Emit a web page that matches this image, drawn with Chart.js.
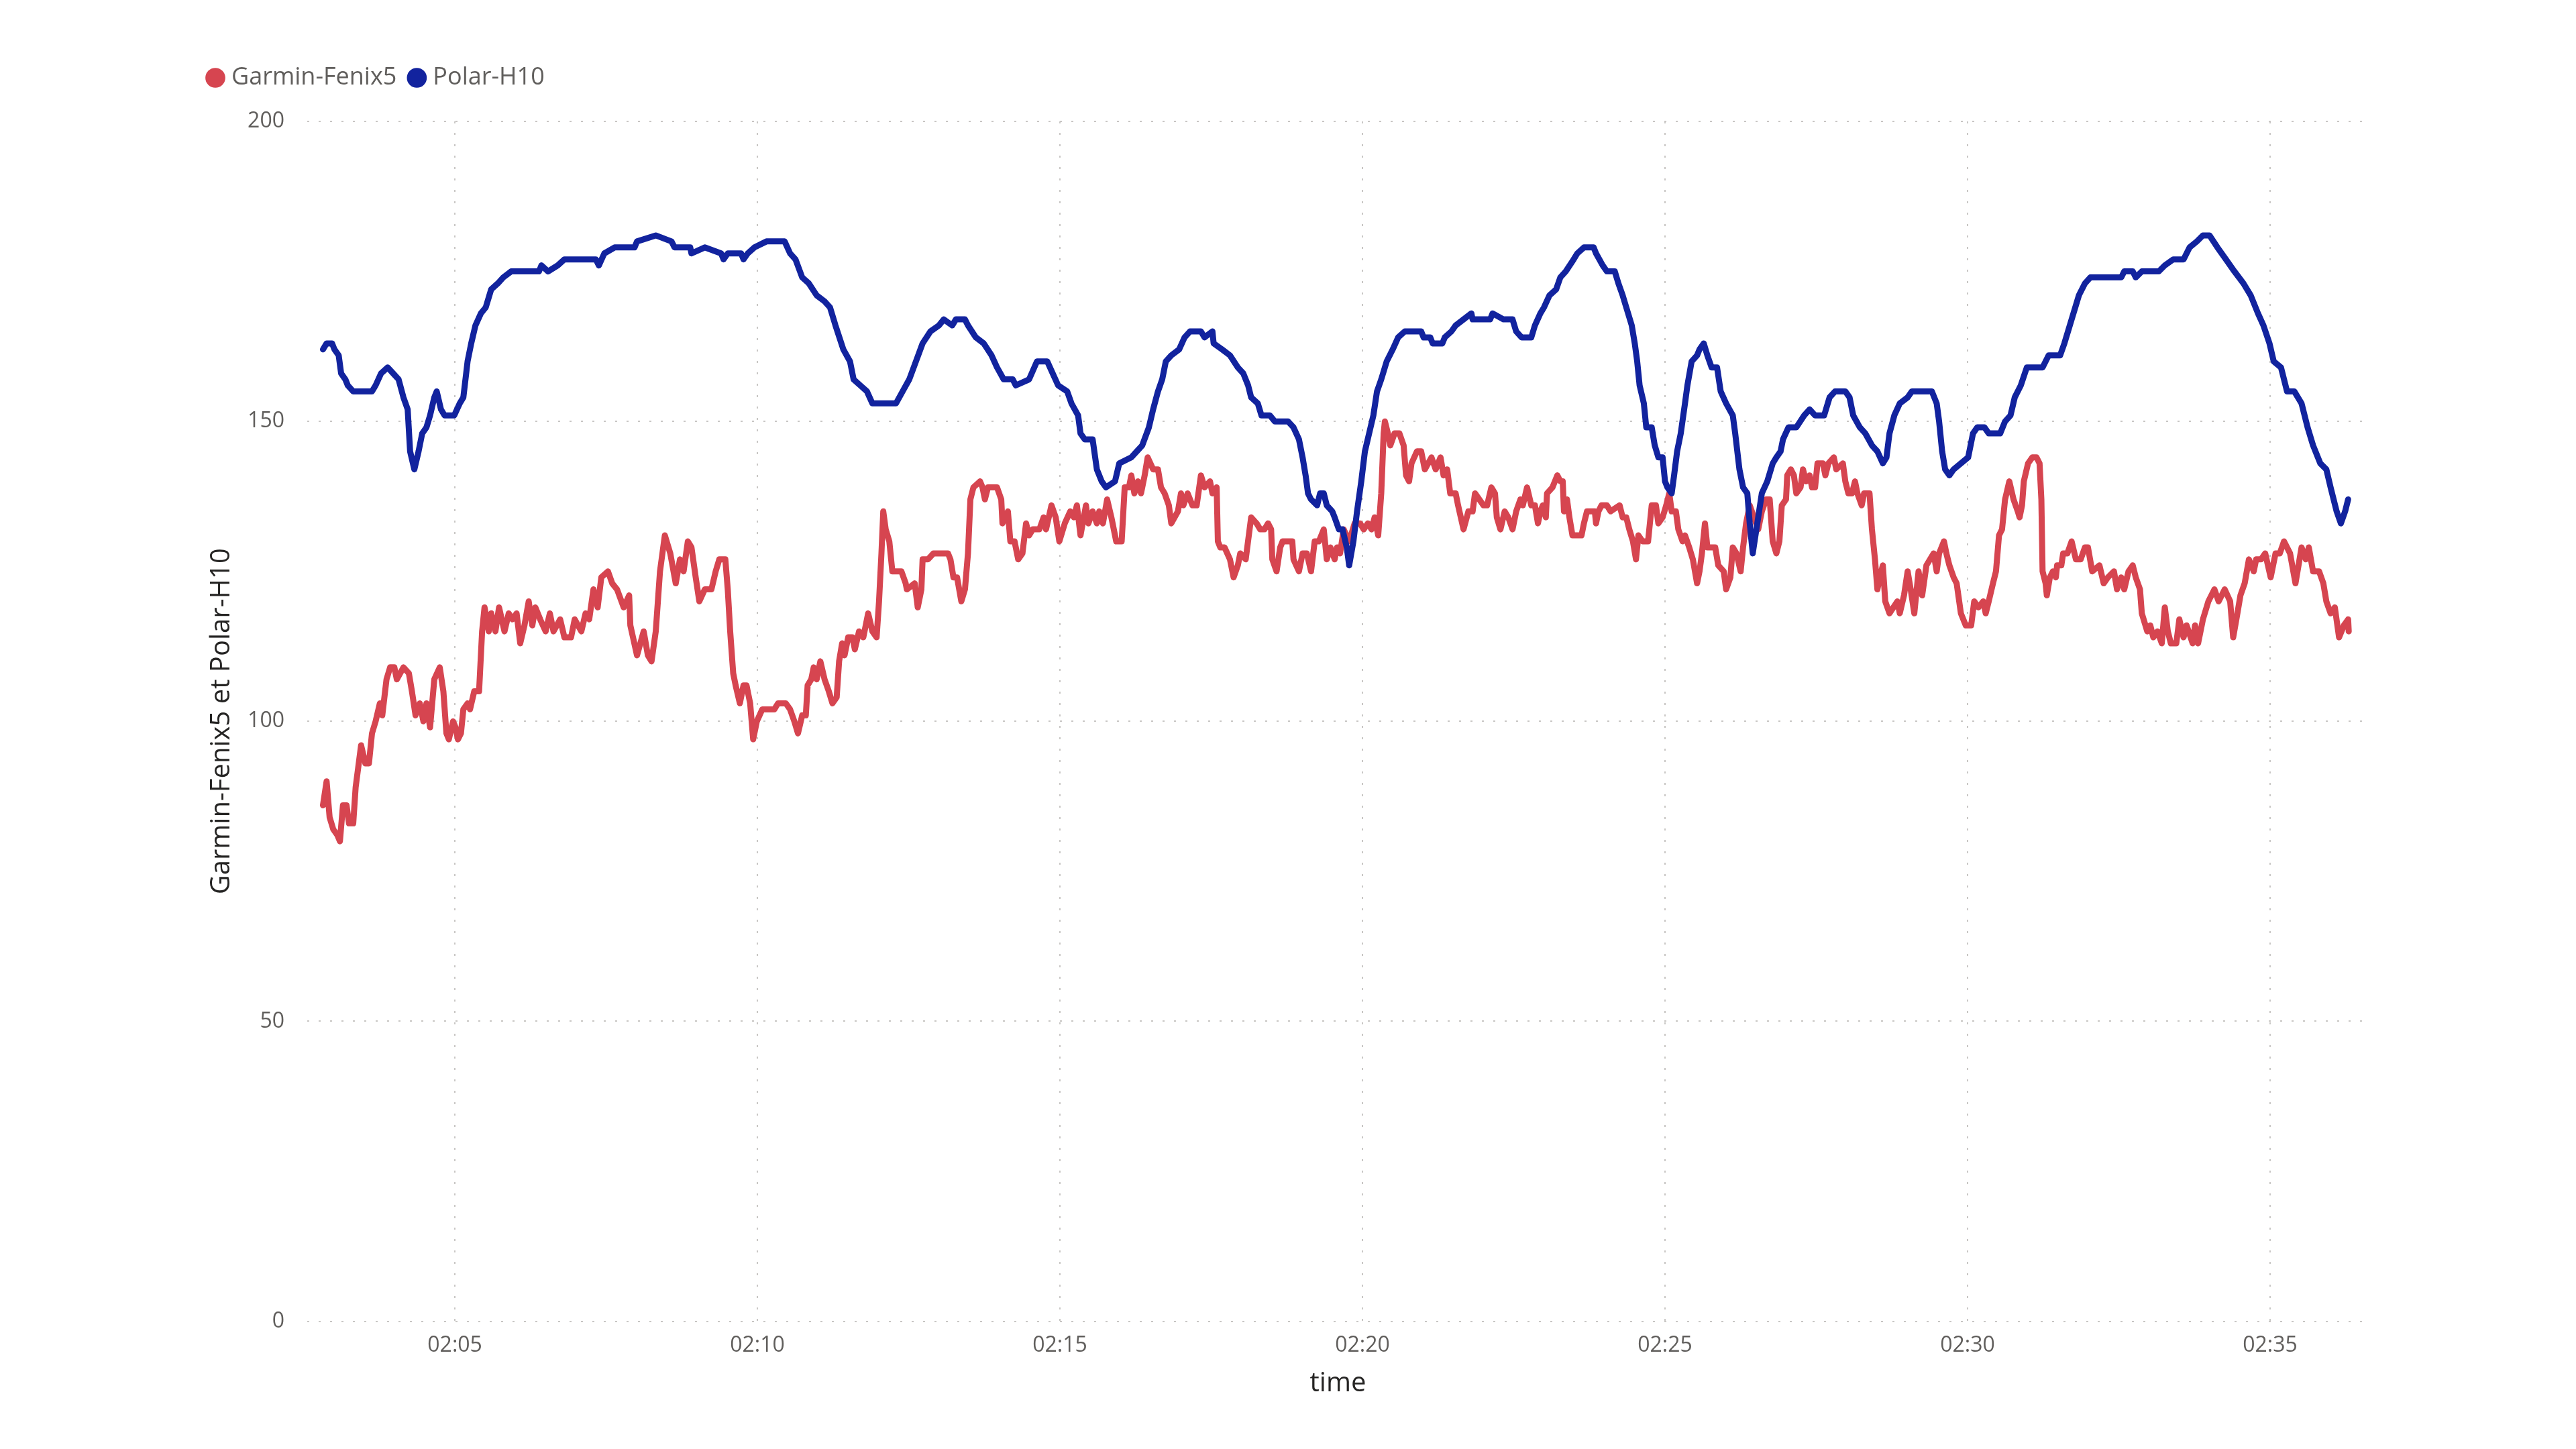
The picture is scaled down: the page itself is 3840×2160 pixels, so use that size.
<!DOCTYPE html>
<html>
<head>
<meta charset="utf-8">
<script src="https://cdn.jsdelivr.net/npm/chart.js@4.4.1/dist/chart.umd.min.js"></script>
<style>
  html, body { margin: 0; padding: 0; background: #fff; }
  #wrap { width: 3840px; height: 2160px; }
</style>
</head>
<body>
<div id="wrap"><canvas id="hrChart"></canvas></div>
<script>
// time in minutes after 02:00, heart rate in bpm
const polarTime = [
  2.82, 2.88, 2.97, 3.01, 3.08, 3.12, 3.19, 3.23, 3.32, 3.63, 3.69, 3.78, 3.89, 3.98, 4.07, 4.15, 4.22, 4.26, 4.33, 4.40,
  4.46, 4.53, 4.59, 4.66, 4.70, 4.77, 4.83, 4.99, 5.08, 5.14, 5.21, 5.27, 5.34, 5.43, 5.51, 5.60, 5.71, 5.80, 5.93, 6.39,
  6.43, 6.54, 6.70, 6.81, 7.33, 7.38, 7.47, 7.64, 7.97, 8.01, 8.32, 8.58, 8.63, 8.89, 8.91, 9.13, 9.40,
  9.44, 9.51, 9.73, 9.77, 9.84, 9.95, 10.15, 10.45, 10.54, 10.63, 10.74, 10.85, 10.98, 11.11, 11.20, 11.29, 11.42, 11.53, 11.59, 11.70,
  11.81, 11.90, 12.29, 12.40, 12.51, 12.62, 12.73, 12.86, 13.00, 13.08, 13.22, 13.28, 13.43, 13.48, 13.61, 13.74, 13.87, 13.96, 14.07, 14.22,
  14.27, 14.49, 14.62, 14.79, 14.88, 14.97, 15.12, 15.19, 15.30, 15.34, 15.41, 15.54, 15.61, 15.69, 15.76, 15.91, 15.98,
  16.18, 16.27, 16.36, 16.47, 16.54, 16.62, 16.69, 16.75, 16.84, 16.97, 17.06, 17.15, 17.33, 17.39, 17.52, 17.54, 17.68, 17.81, 17.94, 18.03,
  18.11, 18.16, 18.27, 18.33, 18.47, 18.55, 18.77, 18.86, 18.95, 19.01, 19.06, 19.10, 19.15, 19.25, 19.30, 19.36, 19.41, 19.50, 19.54, 19.61,
  19.67, 19.74, 19.78, 19.85, 19.91, 19.98, 20.04, 20.11, 20.18, 20.24, 20.31, 20.40, 20.50, 20.59, 20.70, 20.97, 21.01, 21.12, 21.16, 21.32,
  21.36, 21.47, 21.54, 21.67, 21.80, 21.82, 22.11, 22.15, 22.33, 22.48, 22.54, 22.63,
  22.79, 22.85, 22.94, 23.00, 23.09, 23.20, 23.27, 23.36, 23.49, 23.55, 23.66, 23.82, 23.86, 23.97, 24.04, 24.17, 24.23, 24.30, 24.36, 24.45,
  24.50, 24.54, 24.58, 24.65, 24.69, 24.78, 24.83, 24.89, 24.96, 25.00, 25.04, 25.11, 25.15, 25.20, 25.26, 25.33, 25.37, 25.44, 25.53, 25.57,
  25.64, 25.70, 25.77, 25.86, 25.92, 26.01, 26.12, 26.16, 26.23, 26.29, 26.36, 26.40, 26.45, 26.51, 26.60, 26.69, 26.78, 26.84, 26.91, 26.95,
  27.04, 27.17, 27.30, 27.39, 27.48, 27.63, 27.72, 27.81, 27.98, 28.05, 28.11, 28.22, 28.31, 28.42, 28.51, 28.60, 28.66, 28.71, 28.79, 28.88,
  29.01, 29.08,
  29.41, 29.49, 29.53, 29.58, 29.63, 29.70, 29.77, 29.89, 30.01, 30.09, 30.16, 30.28, 30.35, 30.54, 30.62, 30.71, 30.78, 30.88, 30.98, 31.24,
  31.34, 31.53, 31.60, 31.72, 31.84, 31.94, 32.03, 32.54, 32.59, 32.73, 32.78, 32.88, 33.16, 33.26, 33.40, 33.57, 33.67, 33.79, 33.89, 34.00,
  34.13, 34.27, 34.41, 34.56, 34.68, 34.80, 34.89, 34.99, 35.06, 35.18, 35.28, 35.40, 35.52, 35.62, 35.71, 35.83, 35.93, 36.00, 36.10, 36.17,
  36.24, 36.29
];
const polarHR = [
  162, 163, 163, 162, 161, 158, 157, 156, 155, 155, 156, 158, 159, 158, 157, 154, 152, 145, 142, 145,
  148, 149, 151, 154, 155, 152, 151, 151, 153, 154, 160, 163, 166, 168, 169, 172, 173, 174, 175, 175,
  176, 175, 176, 177, 177, 176, 178, 179, 179, 180, 181, 180, 179, 179, 178, 179, 178,
  177, 178, 178, 177, 178, 179, 180, 180, 178, 177, 174, 173, 171, 170, 169, 166, 162, 160, 157, 156,
  155, 153, 153, 155, 157, 160, 163, 165, 166, 167, 166, 167, 167, 166, 164, 163, 161, 159, 157, 157,
  156, 157, 160, 160, 158, 156, 155, 153, 151, 148, 147, 147, 142, 140, 139, 140, 143,
  144, 145, 146, 149, 152, 155, 157, 160, 161, 162, 164, 165, 165, 164, 165, 163, 162, 161, 159, 158,
  156, 154, 153, 151, 151, 150, 150, 149, 147, 144, 141, 138, 137, 136, 138, 138, 136, 135, 134, 132,
  132, 129, 126, 130, 135, 140, 145, 148, 151, 155, 157, 160, 162, 164, 165, 165, 164, 164, 163, 163,
  164, 165, 166, 167, 168, 167, 167, 168, 167, 167, 165, 164,
  164, 166, 168, 169, 171, 172, 174, 175, 177, 178, 179, 179, 178, 176, 175, 175, 173, 171, 169, 166,
  163, 160, 156, 153, 149, 149, 146, 144, 144, 140, 139, 138, 141, 145, 148, 153, 156, 160, 161, 162,
  163, 161, 159, 159, 155, 153, 151, 148, 142, 139, 138, 133, 128, 132, 138, 140, 143, 144, 145, 147,
  149, 149, 151, 152, 151, 151, 154, 155, 155, 154, 151, 149, 148, 146, 145, 143, 144, 148, 151, 153,
  154, 155,
  155, 153, 150, 145, 142, 141, 142, 143, 144, 148, 149, 149, 148, 148, 150, 151, 154, 156, 159, 159,
  161, 161, 163, 167, 171, 173, 174, 174, 175, 175, 174, 175, 175, 176, 177, 177, 179, 180, 181, 181,
  179, 177, 175, 173, 171, 168, 166, 163, 160, 159, 155, 155, 153, 149, 146, 143, 142, 139, 135, 133,
  135, 137
];

const garminTime = [
  2.82, 2.88, 2.93, 2.99, 3.06, 3.10, 3.15, 3.21, 3.25, 3.32, 3.36, 3.45, 3.52, 3.58, 3.63, 3.69, 3.76, 3.80, 3.87, 3.93,
  4.00, 4.04, 4.15, 4.24, 4.29, 4.35, 4.42, 4.48, 4.53, 4.59, 4.66, 4.75, 4.81, 4.86, 4.90, 4.97, 5.01, 5.05, 5.10, 5.14,
  5.21, 5.25, 5.32, 5.40, 5.45, 5.49, 5.56, 5.60, 5.67, 5.73, 5.82, 5.89, 5.95, 6.02, 6.08, 6.15, 6.22, 6.28, 6.33, 6.41,
  6.50, 6.57, 6.63, 6.74, 6.81, 6.92, 6.98, 7.09, 7.16, 7.22, 7.29, 7.36, 7.42, 7.53, 7.60, 7.68, 7.79, 7.88, 7.90, 8.01,
  8.12, 8.19, 8.25, 8.32, 8.39, 8.47, 8.56, 8.65, 8.72, 8.78, 8.85, 8.91, 8.98, 9.04, 9.13, 9.24, 9.31, 9.37,
  9.47, 9.51, 9.55, 9.60, 9.64, 9.71, 9.77, 9.82, 9.88, 9.93, 9.99, 10.08, 10.28, 10.34, 10.47, 10.54, 10.61, 10.67, 10.74, 10.80,
  10.83, 10.89, 10.93, 10.98, 11.04, 11.11, 11.18, 11.24, 11.31, 11.35, 11.40, 11.44, 11.50, 11.57, 11.61, 11.68, 11.75, 11.83, 11.90, 11.97,
  12.01, 12.05, 12.08, 12.12, 12.18, 12.23, 12.38, 12.45, 12.47, 12.60, 12.65, 12.71, 12.73, 12.82, 12.91, 13.15, 13.19, 13.24, 13.30, 13.37,
  13.43, 13.48, 13.52, 13.57, 13.68, 13.72, 13.76, 13.81, 13.96, 14.03, 14.05, 14.14, 14.18, 14.25, 14.31, 14.38, 14.44, 14.49, 14.55, 14.66,
  14.73, 14.77, 14.86, 14.93, 14.99, 15.08, 15.17, 15.23, 15.28, 15.34, 15.43, 15.47, 15.54, 15.61, 15.65, 15.71, 15.78, 15.85, 15.93, 16.02,
  16.07,
  16.14, 16.18, 16.23, 16.29, 16.34, 16.40, 16.45, 16.54, 16.62, 16.67, 16.73, 16.80, 16.84, 16.95, 17.00, 17.04, 17.11, 17.19, 17.26, 17.33,
  17.39, 17.48, 17.52, 17.59, 17.61, 17.65, 17.72, 17.81, 17.87, 17.94, 17.98, 18.07, 18.16, 18.25, 18.31, 18.38, 18.44, 18.49, 18.51, 18.58,
  18.64, 18.68, 18.84, 18.86, 18.95, 19.01, 19.08, 19.15, 19.21, 19.28, 19.36, 19.41, 19.47, 19.54, 19.58, 19.63, 19.69, 19.78, 19.87, 19.96,
  20.02, 20.09, 20.15, 20.20, 20.26, 20.31, 20.35, 20.37, 20.42, 20.46, 20.53, 20.61, 20.68, 20.72, 20.77, 20.81, 20.90, 20.97, 21.03, 21.14,
  21.21, 21.29, 21.34, 21.40, 21.45, 21.54, 21.58, 21.67, 21.75, 21.82, 21.86, 21.93, 22.00, 22.06, 22.13, 22.19, 22.22, 22.28, 22.35, 22.41,
  22.48, 22.54, 22.61, 22.65, 22.72,
  22.79, 22.85, 22.90, 22.94, 22.98, 23.03, 23.05, 23.14, 23.22, 23.27, 23.31, 23.33, 23.38, 23.42, 23.47, 23.62, 23.66, 23.71, 23.84, 23.86,
  23.90, 23.95, 24.04, 24.10, 24.25, 24.30, 24.36, 24.41, 24.47, 24.52, 24.56, 24.63, 24.72, 24.78, 24.85, 24.89, 24.96, 25.02, 25.07, 25.11,
  25.18, 25.22, 25.29, 25.33, 25.40, 25.46, 25.53, 25.57, 25.61, 25.66, 25.70, 25.83, 25.88, 25.97, 26.01, 26.08, 26.12, 26.18, 26.25, 26.29,
  26.34, 26.40, 26.47, 26.54, 26.60, 26.67, 26.73, 26.78, 26.84, 26.89, 26.93, 27.00, 27.02, 27.08, 27.13, 27.17, 27.24, 27.28, 27.33, 27.39,
  27.43, 27.48, 27.52, 27.61, 27.65, 27.70, 27.79, 27.83, 27.94, 27.98, 28.03, 28.09, 28.14, 28.18, 28.25, 28.29, 28.38, 28.42, 28.47, 28.51,
  28.55, 28.60, 28.64, 28.71, 28.84, 28.88, 28.95, 29.01, 29.06, 29.12, 29.19, 29.25, 29.32,
  29.44, 29.49, 29.53, 29.61, 29.65, 29.70, 29.77, 29.82, 29.89, 29.97, 30.06, 30.11, 30.18, 30.26, 30.30, 30.35, 30.42, 30.47, 30.52, 30.57,
  30.62, 30.69, 30.76, 30.83, 30.86, 30.90, 30.93, 31.00, 31.07, 31.14, 31.19, 31.22, 31.24, 31.29, 31.31, 31.36, 31.41, 31.46, 31.48, 31.55,
  31.58, 31.65, 31.72, 31.79, 31.87, 31.94, 31.99, 32.06, 32.18, 32.25, 32.32, 32.42, 32.47, 32.54, 32.59, 32.66, 32.73, 32.78, 32.85, 32.88,
  32.97, 33.02, 33.07, 33.14, 33.21, 33.26, 33.31, 33.36, 33.45, 33.50, 33.57, 33.62, 33.72, 33.76, 33.81, 33.89, 33.98, 34.08, 34.15, 34.25,
  34.34, 34.39, 34.46, 34.51, 34.58, 34.65, 34.73, 34.77, 34.85, 34.92, 35.01, 35.09, 35.16, 35.23, 35.33, 35.42, 35.52, 35.59, 35.64, 35.71,
  35.81, 35.88, 35.93, 36.00, 36.07, 36.14, 36.22, 36.29, 36.30
];
const garminHR = [
  86, 90, 84, 82, 81, 80, 86, 86, 83, 83, 89, 96, 93, 93, 98, 100, 103, 101, 107, 109,
  109, 107, 109, 108, 105, 101, 103, 100, 103, 99, 107, 109, 105, 98, 97, 100, 99, 97, 98, 102,
  103, 102, 105, 105, 115, 119, 115, 118, 115, 119, 115, 118, 117, 118, 113, 116, 120, 116, 119, 117,
  115, 118, 115, 117, 114, 114, 117, 115, 118, 117, 122, 119, 124, 125, 123, 122, 119, 121, 116, 111,
  115, 111, 110, 115, 125, 131, 128, 123, 127, 125, 130, 129, 124, 120, 122, 122, 125, 127,
  127, 122, 115, 108, 106, 103, 106, 106, 103, 97, 100, 102, 102, 103, 103, 102, 100, 98, 101, 101,
  106, 107, 109, 107, 110, 107, 105, 103, 104, 110, 113, 111, 114, 114, 112, 115, 114, 118, 115, 114,
  120, 128, 135, 132, 130, 125, 125, 123, 122, 123, 119, 122, 127, 127, 128, 128, 127, 124, 124, 120,
  122, 128, 137, 139, 140, 139, 137, 139, 139, 137, 133, 135, 130, 130, 127, 128, 133, 131, 132, 132,
  134, 132, 136, 134, 130, 133, 135, 134, 136, 131, 136, 133, 135, 133, 135, 133, 137, 134, 130, 130,
  139,
  139, 141, 138, 140, 138, 141, 144, 142, 142, 139, 138, 136, 133, 135, 138, 136, 138, 136, 136, 141,
  139, 140, 138, 139, 130, 129, 129, 127, 124, 126, 128, 127, 134, 133, 132, 132, 133, 132, 127, 125,
  129, 130, 130, 127, 125, 128, 128, 125, 130, 130, 132, 127, 129, 127, 129, 128, 132, 130, 133, 133,
  132, 133, 132, 134, 131, 138, 148, 150, 148, 146, 148, 148, 146, 141, 140, 143, 145, 145, 142, 144,
  142, 144, 141, 142, 138, 138, 136, 132, 135, 135, 138, 137, 136, 136, 139, 138, 134, 132, 135, 134,
  132, 135, 137, 136, 139,
  136, 136, 133, 135, 136, 134, 138, 139, 141, 140, 140, 135, 137, 134, 131, 131, 133, 135, 135, 133,
  135, 136, 136, 135, 136, 134, 134, 132, 130, 127, 131, 130, 130, 136, 136, 133, 134, 136, 138, 135,
  135, 132, 130, 131, 129, 127, 123, 125, 128, 133, 129, 129, 126, 125, 122, 124, 129, 128, 125, 129,
  133, 136, 134, 132, 135, 137, 137, 130, 128, 130, 136, 137, 141, 142, 141, 138, 139, 142, 140, 141,
  139, 139, 143, 143, 141, 143, 144, 142, 143, 140, 138, 138, 140, 138, 136, 138, 138, 132, 127, 122,
  124, 126, 120, 118, 120, 118, 121, 125, 122, 118, 125, 121, 126,
  128, 125, 128, 130, 128, 126, 124, 123, 118, 116, 116, 120, 119, 120, 118, 120, 123, 125, 131, 132,
  137, 140, 137, 135, 134, 136, 140, 143, 144, 144, 143, 137, 125, 123, 121, 124, 125, 124, 126, 126,
  128, 128, 130, 127, 127, 129, 129, 125, 126, 123, 124, 125, 122, 124, 122, 125, 126, 124, 122, 118,
  115, 116, 114, 115, 113, 119, 115, 113, 113, 117, 114, 116, 113, 116, 113, 117, 120, 122, 120, 122,
  120, 114, 118, 121, 123, 127, 125, 127, 127, 128, 124, 128, 128, 130, 128, 123, 129, 127, 129, 125,
  125, 123, 120, 118, 119, 114, 116, 117, 115
];

const timeTicks = [5, 10, 15, 20, 25, 30, 35];
const hrTicks = [0, 50, 100, 150, 200];

const red = "#D64550";
const blue = "#12239E";
const tickColor = "#605E5C";
const titleColor = "#252423";

Chart.defaults.font.family = "'Segoe UI', 'Open Sans', sans-serif";

function toPoints(times, values) {
  return times.map((t, i) => ({ x: t, y: values[i] }));
}

// stretch the legend box so the plot starts where the reference does
const legendHeight = {
  id: "legendHeight",
  beforeInit(chart) {
    const fit = chart.legend.fit;
    chart.legend.fit = function () {
      fit.call(this);
      this.height = 107;
    };
  }
};

const gridStyle = { color: "#C8C6C4", lineWidth: 2, drawTicks: false };
const borderStyle = { display: false, dash: [3, 14] };

function lineSet(label, times, values, color, order) {
  return {
    label: label,
    data: toPoints(times, values),
    borderColor: color,
    backgroundColor: color,
    borderWidth: 9,
    borderCapStyle: "round",
    borderJoinStyle: "round",
    pointRadius: 0,
    tension: 0,
    order: order
  };
}

new Chart(document.getElementById("hrChart"), {
  type: "line",
  data: {
    datasets: [
      lineSet("Garmin-Fenix5", garminTime, garminHR, red, 1),
      lineSet("Polar-H10", polarTime, polarHR, blue, 0)
    ]
  },
  options: {
    responsive: true,
    maintainAspectRatio: false,
    devicePixelRatio: 1,
    animation: false,
    layout: { padding: { top: 74, left: 291, right: 309, bottom: 73 } },
    plugins: {
      tooltip: { enabled: false },
      legend: {
        position: "top",
        align: "start",
        labels: {
          usePointStyle: true,
          pointStyle: "circle",
          boxWidth: 12,
          boxHeight: 21,
          padding: 24,
          color: tickColor,
          font: { size: 36 },
          generateLabels(chart) {
            const items = Chart.defaults.plugins.legend.labels.generateLabels(chart);
            items.forEach(it => { it.lineWidth = 0; });
            return items.sort((a, b) => a.datasetIndex - b.datasetIndex);
          }
        }
      }
    },
    scales: {
      x: {
        type: "linear",
        min: 2.56,
        max: 36.63,
        afterBuildTicks(scale) {
          scale.ticks = timeTicks.map(v => ({ value: v }));
        },
        ticks: {
          color: tickColor,
          font: { size: 32 },
          padding: 17,
          maxRotation: 0,
          callback: v => "02:" + String(v).padStart(2, "0")
        },
        grid: gridStyle,
        border: borderStyle,
        title: {
          display: true,
          text: "time",
          color: titleColor,
          font: { size: 40 },
          padding: { top: -3, bottom: 0 }
        }
      },
      y: {
        min: 0,
        max: 200,
        afterBuildTicks(scale) {
          scale.ticks = hrTicks.map(v => ({ value: v }));
        },
        afterFit(scale) {
          scale.width = 167;
        },
        ticks: {
          color: tickColor,
          font: { size: 32 },
          padding: 34
        },
        grid: gridStyle,
        border: borderStyle,
        title: {
          display: true,
          text: "Garmin-Fenix5 et Polar-H10",
          color: titleColor,
          font: { size: 40 },
          padding: { top: 16, bottom: 0 }
        }
      }
    }
  },
  plugins: [legendHeight]
});
</script>
</body>
</html>
